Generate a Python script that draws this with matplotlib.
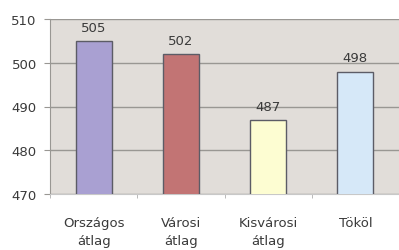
import matplotlib
matplotlib.use('Agg')
from matplotlib import pyplot as plt
import numpy as np

categories = ['Országos\nátlag', 'Városi\nátlag', 'Kisvárosi\nátlag', 'Tököl']
values = [505, 502, 487, 498]
bar_colors = ['#a9a0d2', '#c27474', '#fdfdd2', '#d6e8f8']
y_ticks = [470, 480, 490, 500, 510]

fig = plt.figure(figsize=(3.99, 2.51), dpi=100)
ax = fig.add_axes([50 / 399, 1 - 195 / 251, 349 / 399, 175 / 251])
ax.set_facecolor('#e1ddd9')

x = np.arange(len(categories))
ax.bar(x, values, width=0.41, bottom=0, color=bar_colors,
       edgecolor='#5c5c66', linewidth=1.0, zorder=3)

for xi, v in zip(x, values):
    ax.text(xi, v + 1.6, str(v), ha='center', va='bottom',
            fontsize=9.5, color='#3a3a3a', zorder=4)

ax.set_ylim(470, 510)
ax.set_xlim(-0.5, len(categories) - 0.5)
ax.set_yticks(y_ticks)
ax.yaxis.grid(True, color='#999793', linewidth=1.0, zorder=1)

ax.set_xticks(x)
ax.set_xticklabels(categories, fontsize=9.5, color='#3a3a3a', linespacing=1.5)
ax.tick_params(axis='x', length=0, pad=16)
ax.tick_params(axis='y', labelsize=9.5, labelcolor='#3a3a3a', length=4.5,
               color='#999793', pad=5)

# tick marks between categories
ax.set_xticks(np.arange(len(categories) + 1) - 0.5, minor=True)
ax.tick_params(axis='x', which='minor', length=3, color='#b0b0b0')

for side in ['top', 'right']:
    ax.spines[side].set_visible(False)
ax.spines['left'].set_color('#999793')
ax.spines['bottom'].set_color('#c8c8c8')

fig.savefig('out.png', dpi=100, facecolor='white')
